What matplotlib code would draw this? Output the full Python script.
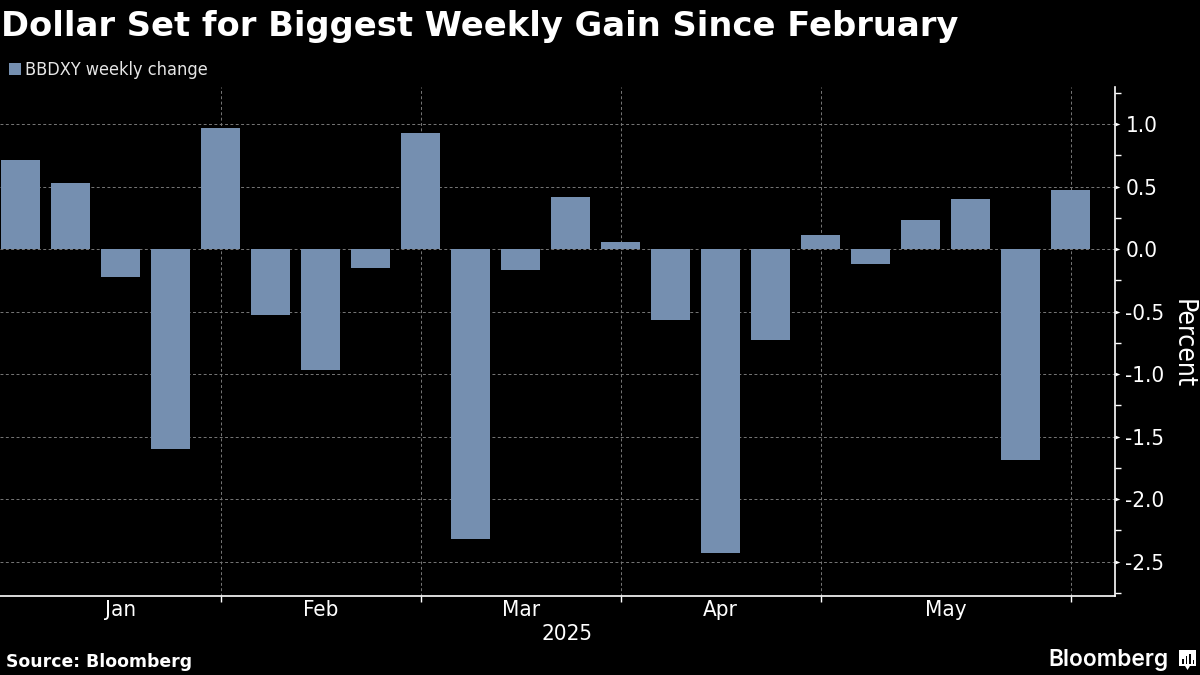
import pandas as pd
import matplotlib
matplotlib.use("Agg")
import matplotlib.pyplot as plt
import matplotlib.dates as mdates
from matplotlib.path import Path
from matplotlib.patches import Rectangle, Polygon

# Weekly BBDXY change, week ending Friday
weeks = pd.date_range("2025-01-03", "2025-05-30", freq="7D")
changes = [0.71, 0.53, -0.22, -1.60, 0.97, -0.53, -0.97, -0.15, 0.93, -2.32, -0.17,
           0.42, 0.06, -0.57, -2.43, -0.73, 0.11, -0.12, 0.23, 0.40, -1.69, 0.47]

month_edges = ["2025-01-03", "2025-01-31", "2025-02-28", "2025-03-28", "2025-04-25", "2025-05-30"]
month_labels = ["Jan", "Feb", "Mar", "Apr", "May"]
y_ticks = [1.0, 0.5, 0.0, -0.5, -1.0, -1.5, -2.0, -2.5]
y_minor = [1.25, 0.75, 0.25, -0.25, -0.75, -1.25, -1.75, -2.25, -2.75]
y_labels = ["1.0", "0.5", "0.0", "-0.5", "-1.0", "-1.5", "-2.0", "-2.5"]

BLACK = "#000000"
WHITE = "#ffffff"
BAR = "#758fb0"
GRID = "#777777"
W, H = 1200, 675

plt.rcParams["font.family"] = "DejaVu Sans"

fig = plt.figure(figsize=(12, 6.75), dpi=100, facecolor=BLACK)
ax = fig.add_axes([0, 1 - 595.5 / H, 1115 / W, (595.5 - 87) / H], facecolor=BLACK)

x = mdates.date2num(weeks)
edges = mdates.date2num(pd.to_datetime(month_edges))
ax.bar(x, changes, width=5.45, color=BAR, zorder=3)

# 50 px per week
ax.set_xlim(x[0] - 20.6 * 7 / 50, x[0] + (1115 - 20.6) * 7 / 50)
ax.set_ylim(-2.772, 1.298)

for side in ["top", "left"]:
    ax.spines[side].set_visible(False)
for side in ["bottom", "right"]:
    ax.spines[side].set_color(WHITE)
    ax.spines[side].set_linewidth(1.2)

# grid
ax.set_xticks(edges[1:])
ax.set_xticklabels([])
ax.tick_params(axis="x", length=4, width=1, color=WHITE)
ax.yaxis.tick_right()
ax.set_yticks(y_ticks)
ax.set_yticklabels(y_labels, color=WHITE, fontsize=16, stretch="condensed", ha="left")
ax.set_yticks(y_minor, minor=True)
ax.tick_params(axis="y", which="major", length=0, pad=7.5)
ax.tick_params(axis="y", which="minor", length=4, width=1, color=WHITE)
ax.grid(True, which="major", color=GRID, linestyle=(0, (3, 2.5)), linewidth=0.7, zorder=1)

# tapered major ticks
tri = Path([(0, -0.5), (1.3, 0), (0, 0.5), (0, -0.5)], closed=True)
ax.plot([1] * len(y_ticks), y_ticks, linestyle="none", marker=tri, markersize=7,
        color=WHITE, markeredgewidth=0, clip_on=False, transform=ax.get_yaxis_transform(), zorder=5)

# month labels sit between the month boundaries
for i, label in enumerate(month_labels):
    ax.text((edges[i] + edges[i + 1]) / 2, -0.029, label, color=WHITE, fontsize=16, stretch="condensed",
            ha="center", va="center", transform=ax.get_xaxis_transform())

fig.text(567 / W, 1 - 634 / H, "2025", color=WHITE, fontsize=16, stretch="condensed", ha="center", va="center")
fig.text(1183 / W, 1 - 343.5 / H, "Percent", color=WHITE, fontsize=19, stretch="condensed", rotation=270, ha="center", va="center")

fig.text(1 / W, 1 - 26.5 / H, "Dollar Set for Biggest Weekly Gain Since February", color=WHITE,
         fontsize=24.3, fontweight="bold", ha="left", va="center")

fig.add_artist(Rectangle((9 / W, 1 - 75 / H), 12 / W, 12 / H, facecolor=BAR, linewidth=0, transform=fig.transFigure))
fig.text(25 / W, 1 - 70 / H, "BBDXY weekly change", color="#e6e6e6", fontsize=13, stretch="condensed", ha="left", va="center")

fig.text(6 / W, 1 - 662 / H, "Source: Bloomberg", color=WHITE, fontsize=12.4, fontweight="bold", ha="left", va="center")
fig.text(1168 / W, 1 - 660 / H, "Bloomberg", color=WHITE, fontsize=16.4, fontweight=600, family="Inter", ha="right", va="center")

# logo: white speech box with dark bars
fig.add_artist(Polygon([(1179 / W, 1 - 650 / H), (1196 / W, 1 - 650 / H), (1196 / W, 1 - 666 / H),
                        (1190 / W, 1 - 666 / H), (1187.5 / W, 1 - 670 / H), (1185 / W, 1 - 666 / H),
                        (1179 / W, 1 - 666 / H)], closed=True, facecolor=WHITE, linewidth=0, transform=fig.transFigure))
for bx, top in zip([1182, 1185.5, 1189, 1192.5], [659, 656, 654, 660]):
    fig.add_artist(Rectangle((bx / W, 1 - 664 / H), 1.6 / W, (664 - top) / H, facecolor=BLACK, linewidth=0, transform=fig.transFigure))

fig.savefig("out.png", dpi=100, facecolor=BLACK)
